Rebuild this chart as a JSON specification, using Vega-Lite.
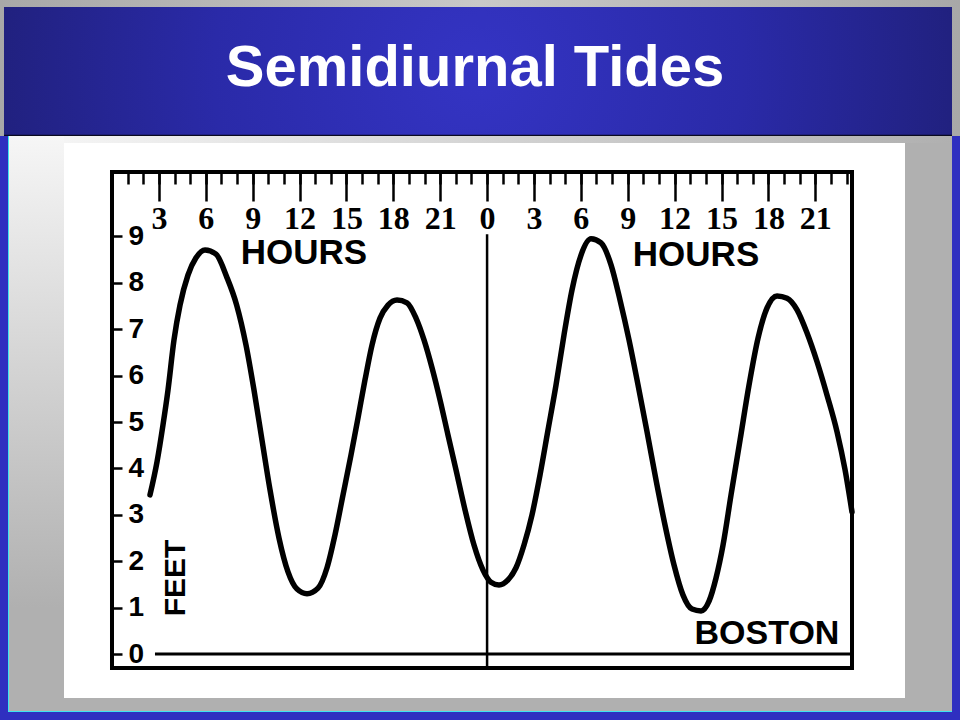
{
  "$schema": "https://vega.github.io/schema/vega-lite/v6.json",
  "width": 841,
  "height": 555,
  "autosize": {"type": "none"},
  "padding": {"left": 64, "top": 143, "right": 55, "bottom": 22},
  "background": "#b0b0b0",
  "config": {"view": {"stroke": null, "fill": "#ffffff"}},
  "resolve": {"axis": {"x": "independent"}},
  "layer": [
    {
      "data": {"values": [{}]},
      "mark": {"type": "rect", "fill": {"gradient": "linear", "x1": 0, "y1": 0, "x2": 1, "y2": 0,
        "stops": [{"offset": 0, "color": "#a8a8a8"}, {"offset": 0.5, "color": "#c8c8c8"}, {"offset": 1, "color": "#a8a8a8"}]}},
      "encoding": {
        "x": {"datum": -7.1665, "type": "quantitative", "axis": null},
        "x2": {"datum": 54.261},
        "y": {"datum": 14.097, "type": "quantitative"},
        "y2": {"datum": 11.166}
      }
    },
    {
      "data": {"values": [{}]},
      "mark": {"type": "rect",
        "fill": {"gradient": "radial", "x1": 0.5, "y1": 0.5, "r1": 0, "x2": 0.5, "y2": 0.5, "r2": 0.62,
          "stops": [{"offset": 0, "color": "#3434c4"}, {"offset": 0.45, "color": "#2a2aa8"}, {"offset": 1, "color": "#1c1c6a"}]}},
      "encoding": {
        "x": {"datum": -6.9106, "type": "quantitative", "axis": null},
        "x2": {"datum": 53.749},
        "y": {"datum": 13.946, "type": "quantitative"},
        "y2": {"datum": 11.166}
      }
    },
    {
      "data": {"values": [{}]},
      "mark": {"type": "rule", "color": "#0a0a20", "strokeWidth": 1.5},
      "encoding": {
        "x": {"datum": -6.9106, "type": "quantitative", "axis": null},
        "x2": {"datum": 53.749},
        "y": {"datum": 11.176, "type": "quantitative"}
      }
    },
    {
      "data": {"values": [{}]},
      "mark": {"type": "rect", "fill": "#2f2fc0"},
      "encoding": {
        "x": {"datum": -7.1665, "type": "quantitative", "axis": null},
        "x2": {"datum": -6.6546},
        "y": {"datum": 11.166, "type": "quantitative"},
        "y2": {"datum": -1.421}
      }
    },
    {
      "data": {"values": [{}]},
      "mark": {"type": "rect", "fill": "#2f2fc0"},
      "encoding": {
        "x": {"datum": 53.749, "type": "quantitative", "axis": null},
        "x2": {"datum": 54.261},
        "y": {"datum": 11.166, "type": "quantitative"},
        "y2": {"datum": -1.421}
      }
    },
    {
      "data": {"values": [{}]},
      "mark": {"type": "rect", "fill": "#2f2fc0"},
      "encoding": {
        "x": {"datum": -7.1665, "type": "quantitative", "axis": null},
        "x2": {"datum": 54.261},
        "y": {"datum": -1.248, "type": "quantitative"},
        "y2": {"datum": -1.421}
      }
    },
    {
      "data": {"values": [{}]},
      "mark": {"type": "rect", "fill": "#3fe3ef"},
      "encoding": {
        "x": {"datum": -6.6546, "type": "quantitative", "axis": null},
        "x2": {"datum": -6.5906},
        "y": {"datum": 11.166, "type": "quantitative"},
        "y2": {"datum": -1.248}
      }
    },
    {
      "data": {"values": [{}]},
      "mark": {"type": "rect", "fill": "#3fe3ef"},
      "encoding": {
        "x": {"datum": -6.6546, "type": "quantitative", "axis": null},
        "x2": {"datum": 53.749},
        "y": {"datum": -1.227, "type": "quantitative"},
        "y2": {"datum": -1.248}
      }
    },
    {
      "data": {"values": [{}]},
      "mark": {"type": "rect",
        "fill": {"gradient": "linear", "x1": 0, "y1": 0, "x2": 0, "y2": 1,
          "stops": [{"offset": 0, "color": "#f6f6f6"}, {"offset": 0.82, "color": "#b0b0b0"}, {"offset": 1, "color": "#b0b0b0"}]}},
      "encoding": {
        "x": {"datum": -6.5906, "type": "quantitative", "axis": null},
        "x2": {"datum": -3.0713},
        "y": {"datum": 11.166, "type": "quantitative"},
        "y2": {"datum": -1.227}
      }
    },
    {
      "data": {"values": [{}]},
      "mark": {"type": "rect",
        "fill": {"gradient": "linear", "x1": 0, "y1": 0, "x2": 1, "y2": 0,
          "stops": [{"offset": 0, "color": "#f4f4f4"}, {"offset": 1, "color": "#b0b0b0"}]}},
      "encoding": {
        "x": {"datum": -3.0713, "type": "quantitative", "axis": null},
        "x2": {"datum": 53.749},
        "y": {"datum": 11.166, "type": "quantitative"},
        "y2": {"datum": 11.015}
      }
    },
    {
      "data": {"values": [{}]},
      "mark": {"type": "rect", "fill": null, "fillOpacity": 0, "stroke": "#000000", "strokeWidth": 4},
      "encoding": {
        "x": {
          "datum": 0, "type": "quantitative",
          "axis": {
            "orient": "top", "offset": -29, "title": null, "zindex": 2, "domain": false, "grid": false,
            "values": [0,3,6,9,12,15,18,21,24,27,30,33,36,39,42,45],
            "tickCount": 60,
            "ticks": true, "tickSize": -29, "tickWidth": 2.5, "tickColor": "#000000",
            "labelExpr": "datum.value > 0 ? '' + (datum.value % 24) : ''",
            "labelPadding": -27, "labelBaseline": "alphabetic", "labelAlign": "center",
            "labelFont": "Liberation Serif", "labelFontSize": 32, "labelFontWeight": "bold", "labelColor": "#000000",
            "labelOverlap": false, "labelBound": false, "labelFlush": false
          }
        },
        "x2": {"datum": 47.35},
        "y": {"datum": -0.3, "type": "quantitative"},
        "y2": {"datum": 10.39}
      }
    },
    {
      "data": {"values": [{}]},
      "mark": {"type": "rule", "color": "#000000", "strokeWidth": 3},
      "encoding": {
        "x": {"datum": 2.75, "type": "quantitative", "axis": null},
        "x2": {"datum": 47.35},
        "y": {"datum": 0, "type": "quantitative"}
      }
    },
    {
      "data": {"values": [{}]},
      "mark": {"type": "rule", "color": "#000000", "strokeWidth": 2.5},
      "encoding": {
        "x": {"datum": 24, "type": "quantitative", "axis": null},
        "y": {"datum": 9.05, "type": "quantitative"},
        "y2": {"datum": -0.3}
      }
    },
    {
      "data": {"values": [
        {"hour": 2.431, "feet": 3.43}, {"hour": 2.879, "feet": 4.14}, {"hour": 3.263, "feet": 4.94},
        {"hour": 3.583, "feet": 5.69}, {"hour": 3.967, "feet": 6.77}, {"hour": 4.351, "feet": 7.52},
        {"hour": 4.863, "feet": 8.17}, {"hour": 5.375, "feet": 8.54}, {"hour": 5.951, "feet": 8.71},
        {"hour": 6.655, "feet": 8.62}, {"hour": 7.339, "feet": 8.13}, {"hour": 7.979, "feet": 7.52},
        {"hour": 8.574, "feet": 6.66}, {"hour": 9.086, "feet": 5.69}, {"hour": 9.598, "feet": 4.61},
        {"hour": 10.110, "feet": 3.54}, {"hour": 10.686, "feet": 2.50}, {"hour": 11.262, "feet": 1.77},
        {"hour": 11.838, "feet": 1.40}, {"hour": 12.478, "feet": 1.30}, {"hour": 13.182, "feet": 1.42},
        {"hour": 13.758, "feet": 1.86}, {"hour": 14.269, "feet": 2.57}, {"hour": 14.781, "feet": 3.43},
        {"hour": 15.293, "feet": 4.29}, {"hour": 15.741, "feet": 5.09}, {"hour": 16.189, "feet": 5.91},
        {"hour": 16.637, "feet": 6.66}, {"hour": 17.149, "feet": 7.24}, {"hour": 17.661, "feet": 7.52},
        {"hour": 18.237, "feet": 7.63}, {"hour": 18.876, "feet": 7.57}, {"hour": 19.452, "feet": 7.24},
        {"hour": 19.964, "feet": 6.77}, {"hour": 20.476, "feet": 6.17}, {"hour": 20.988, "feet": 5.48},
        {"hour": 21.500, "feet": 4.72}, {"hour": 22.012, "feet": 3.97}, {"hour": 22.588, "feet": 3.11},
        {"hour": 23.164, "feet": 2.35}, {"hour": 23.740, "feet": 1.81}, {"hour": 24.251, "feet": 1.55},
        {"hour": 24.763, "feet": 1.49}, {"hour": 25.339, "feet": 1.60}, {"hour": 25.851, "feet": 1.86},
        {"hour": 26.363, "feet": 2.35}, {"hour": 26.875, "feet": 3.00}, {"hour": 27.387, "feet": 3.86},
        {"hour": 27.899, "feet": 4.83}, {"hour": 28.411, "feet": 5.80}, {"hour": 28.923, "feet": 6.88},
        {"hour": 29.435, "feet": 7.85}, {"hour": 30.011, "feet": 8.60}, {"hour": 30.651, "feet": 8.95},
        {"hour": 31.291, "feet": 8.86}, {"hour": 31.931, "feet": 8.39}, {"hour": 32.507, "feet": 7.63},
        {"hour": 33.083, "feet": 6.77}, {"hour": 33.659, "feet": 5.80}, {"hour": 34.234, "feet": 4.79},
        {"hour": 34.810, "feet": 3.75}, {"hour": 35.386, "feet": 2.78}, {"hour": 35.962, "feet": 1.92},
        {"hour": 36.538, "feet": 1.27}, {"hour": 37.114, "feet": 0.97}, {"hour": 37.690, "feet": 0.93},
        {"hour": 38.202, "feet": 1.14}, {"hour": 38.650, "feet": 1.64}, {"hour": 39.098, "feet": 2.35},
        {"hour": 39.610, "feet": 3.43}, {"hour": 40.186, "feet": 4.61}, {"hour": 40.762, "feet": 5.80},
        {"hour": 41.338, "feet": 6.81}, {"hour": 41.914, "feet": 7.46}, {"hour": 42.554, "feet": 7.72},
        {"hour": 43.194, "feet": 7.67}, {"hour": 43.834, "feet": 7.42}, {"hour": 44.474, "feet": 6.92},
        {"hour": 45.113, "feet": 6.30}, {"hour": 45.753, "feet": 5.58}, {"hour": 46.393, "feet": 4.79},
        {"hour": 46.905, "feet": 3.97}, {"hour": 47.350, "feet": 3.06}
      ]},
      "mark": {"type": "line", "color": "#000000", "strokeWidth": 5.5, "interpolate": "monotone", "strokeCap": "round", "strokeJoin": "round"},
      "encoding": {
        "x": {
          "field": "hour", "type": "quantitative",
          "scale": {"domain": [-3.0713, 50.741], "nice": false, "zero": false},
          "axis": {
            "orient": "top", "offset": -29, "title": null, "zindex": 1, "domain": false, "grid": false,
            "values": [0,1,2,3,4,5,6,7,8,9,10,11,12,13,14,15,16,17,18,19,20,21,22,23,24,25,26,27,28,29,30,31,32,33,34,35,36,37,38,39,40,41,42,43,44,45,46,47],
            "tickCount": 60,
            "ticks": true, "tickSize": -12, "tickWidth": 2.5, "tickColor": "#000000",
            "labels": false
          }
        },
        "y": {
          "field": "feet", "type": "quantitative",
          "scale": {"domain": [-0.947, 11.015], "nice": false, "zero": false},
          "axis": {
            "orient": "left", "offset": -48, "title": null, "zindex": 1, "domain": false, "grid": false,
            "values": [0,1,2,3,4,5,6,7,8,9],
            "tickCount": 20, "format": "d",
            "tickSize": -10, "tickWidth": 2.5, "tickColor": "#000000",
            "labelAlign": "left", "labelBaseline": "middle", "labelPadding": -6,
            "labelFont": "Liberation Sans", "labelFontSize": 28, "labelFontWeight": "bold", "labelColor": "#000000",
            "labelOverlap": false, "labelBound": false, "labelFlush": false
          }
        }
      }
    },
    {
      "data": {"values": [{}]},
      "mark": {"type": "text", "text": "HOURS", "font": "Liberation Sans", "fontSize": 35, "fontWeight": "bold", "color": "#000000", "align": "center", "baseline": "middle"},
      "encoding": {
        "x": {"datum": 12.285, "type": "quantitative", "axis": null},
        "y": {"datum": 8.644, "type": "quantitative"}
      }
    },
    {
      "data": {"values": [{}]},
      "mark": {"type": "text", "text": "HOURS", "font": "Liberation Sans", "fontSize": 35, "fontWeight": "bold", "color": "#000000", "align": "center", "baseline": "middle"},
      "encoding": {
        "x": {"datum": 37.37, "type": "quantitative", "axis": null},
        "y": {"datum": 8.60, "type": "quantitative"}
      }
    },
    {
      "data": {"values": [{}]},
      "mark": {"type": "text", "text": "BOSTON", "font": "Liberation Sans", "fontSize": 34, "fontWeight": "bold", "color": "#000000", "align": "center", "baseline": "middle"},
      "encoding": {
        "x": {"datum": 41.91, "type": "quantitative", "axis": null},
        "y": {"datum": 0.433, "type": "quantitative"}
      }
    },
    {
      "data": {"values": [{}]},
      "mark": {"type": "text", "text": "FEET", "angle": 270, "font": "Liberation Sans", "fontSize": 30, "fontWeight": "bold", "color": "#000000", "align": "center", "baseline": "middle"},
      "encoding": {
        "x": {"datum": 4.095, "type": "quantitative", "axis": null},
        "y": {"datum": 1.64, "type": "quantitative"}
      }
    },
    {
      "data": {"values": [{}]},
      "mark": {"type": "text", "text": "Semidiurnal Tides", "font": "Liberation Sans", "fontSize": 58, "fontWeight": "bold", "color": "#ffffff", "align": "center", "baseline": "alphabetic"},
      "encoding": {
        "x": {"datum": 23.23, "type": "quantitative", "axis": null},
        "y": {"datum": 12.243, "type": "quantitative"}
      }
    }
  ]
}
